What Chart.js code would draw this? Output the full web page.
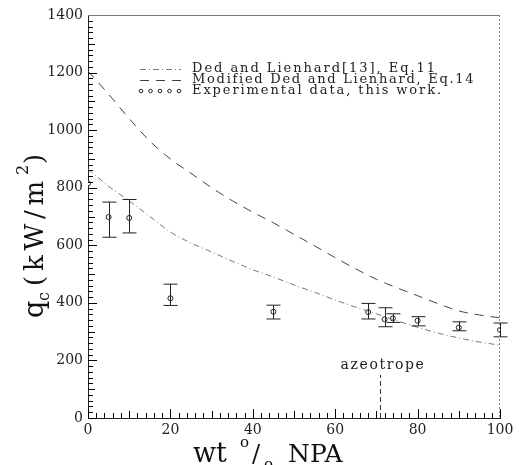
<!DOCTYPE html>
<html>
<head>
<meta charset="utf-8">
<script src="https://cdn.jsdelivr.net/npm/chart.js@4.4.1/dist/chart.umd.min.js"></script>
<style>
html,body{margin:0;padding:0;background:#fff;}
</style>
</head>
<body>
<canvas id="myChart" width="519" height="465"></canvas>
<script>
// DATA

// model curves, x = wt % NPA
const wtGrid = [0,5,10,15,20,25,30,35,40,45,50,55,60,65,70,75,80,85,90,95,100];
const qEq11 = [865,805,754,700,646,608,577,545,515,490,462,437,410,385,362,338,315,295,278,264,253];
const qEq14 = [1205,1125,1040,962,900,850,800,755,715,678,638,598,557,518,482,452,425,397,372,358,348];

// experimental points with error bars
const expWt   = [0,5,10,20,45,68,72,74,80,90,100];
const expQ    = [815,698,695,416,369,368,343,346,338,314,306];
const expLow  = [815,628,643,391,344,344,317,332,320,303,282];
const expHigh = [815,750,759,465,392,398,383,362,352,334,330];

// azeotrope marker
const azeoWt = [71,71];
const azeoQ = [0,150];

const xTicks = [0,20,40,60,80,100];
const yTicks = [0,200,400,600,800,1000,1200,1400];
// minor tick positions
const xMinor = Array.from({length:51}, (_,i)=>i*2);
const yMinor = Array.from({length:71}, (_,i)=>i*20);

const labels = [
	"Ded and Lienhard[13], Eq.11",
	"Modified Ded and Lienhard, Eq.14",
	"Experimental data, this work."
];

const serif = "'DejaVu Serif', serif";
const ink = '#222';

function pts(xs, ys){
	return xs.map((x,i)=>({x:x, y:ys[i]}));
}

// write text stretched to a given width (the original font is wide spaced)
function fitText(ctx, txt, x, y, w){
	ctx.letterSpacing = '0px';
	let m = ctx.measureText(txt).width;
	let sp = (w - m) / txt.length;
	ctx.letterSpacing = sp + 'px';
	ctx.fillText(txt, x, y);
	ctx.letterSpacing = '0px';
}

const decor = {
	id: 'decor',
	afterDatasetsDraw(chart){
		const ctx = chart.ctx;
		const xs = chart.scales.x;
		const ys = chart.scales.y;
		ctx.save();
		ctx.strokeStyle = ink;
		ctx.lineWidth = 1;
		ctx.setLineDash([]);
		// error bars
		expWt.forEach((w,i)=>{
			if(expLow[i] === expHigh[i]) return;
			let px = Math.round(xs.getPixelForValue(w)) + 0.5;
			let lo = ys.getPixelForValue(expLow[i]);
			let hi = ys.getPixelForValue(expHigh[i]);
			ctx.beginPath();
			ctx.moveTo(px, lo); ctx.lineTo(px, hi);
			ctx.moveTo(px-7, lo); ctx.lineTo(px+7, lo);
			ctx.moveTo(px-7, hi); ctx.lineTo(px+7, hi);
			ctx.stroke();
		});
		ctx.restore();
	},
	afterDraw(chart){
		const ctx = chart.ctx;
		const xs = chart.scales.x;
		const ys = chart.scales.y;
		const a = chart.chartArea;
		ctx.save();

		// inward ticks
		ctx.fillStyle = '#000';
		xMinor.forEach(v=>{
			let px = Math.round(xs.getPixelForValue(v));
			let len = v%20===0 ? 9 : (v%10===0 ? 7 : 5);
			ctx.fillRect(px, a.bottom - len, 1, len);
		});
		yMinor.forEach(v=>{
			let py = Math.round(ys.getPixelForValue(v));
			let len = v%200===0 ? 9 : (v%100===0 ? 7 : 5);
			ctx.fillRect(a.left, py, len, 1);
		});

		// frame: grey top, dotted right
		ctx.lineWidth = 1;
		ctx.strokeStyle = '#777';
		ctx.beginPath();
		ctx.moveTo(a.left, a.top+0.5); ctx.lineTo(a.right, a.top+0.5);
		ctx.stroke();
		ctx.setLineDash([2,2]);
		ctx.strokeStyle = '#888';
		ctx.beginPath();
		ctx.moveTo(a.right-0.5, a.top); ctx.lineTo(a.right-0.5, a.bottom);
		ctx.stroke();
		ctx.setLineDash([]);

		// legend
		const ds = chart.data.datasets;
		const rowY = [69, 80, 91];
		const fitW = [245, 283, 251];
		ctx.font = '13px ' + serif;
		ctx.fillStyle = ink;
		ctx.textBaseline = 'middle';
		for(let i=0;i<3;i++){
			let y = rowY[i];
			if(i<2){
				ctx.strokeStyle = ds[i].borderColor;
				ctx.setLineDash(ds[i].borderDash);
				ctx.beginPath();
				ctx.moveTo(140, y+0.5); ctx.lineTo(181, y+0.5);
				ctx.stroke();
				ctx.setLineDash([]);
			} else {
				ctx.strokeStyle = ink;
				for(let k=0;k<5;k++){
					ctx.beginPath();
					ctx.arc(141+k*9.5, y, 1.8, 0, Math.PI*2);
					ctx.stroke();
				}
			}
			fitText(ctx, labels[i], 192, y, fitW[i]);
		}

		// azeotrope label
		ctx.font = '14px ' + serif;
		ctx.textBaseline = 'alphabetic';
		let ax = xs.getPixelForValue(azeoWt[0]);
		fitText(ctx, 'azeotrope', ax-40, ys.getPixelForValue(azeoQ[1]) - 6, 85);

		// x title:  wt °/o NPA
		ctx.fillStyle = '#111';
		ctx.font = '27px ' + serif;
		ctx.fillText('wt', 193, 462);
		ctx.font = '15px ' + serif;
		ctx.fillText('o', 240, 447);
		ctx.font = '24px ' + serif;
		ctx.fillText('/', 252, 462);
		ctx.font = '15px ' + serif;
		ctx.fillText('o', 264, 469);
		ctx.font = '25px ' + serif;
		ctx.fillText('NPA', 288, 462);

		// y title:  q_c (kW/m^2)
		ctx.translate(43, 318);
		ctx.rotate(-Math.PI/2);
		ctx.font = '27px ' + serif;
		ctx.fillText('q', 0, 0);
		ctx.font = '16px ' + serif;
		ctx.fillText('c', 17, 6);
		ctx.font = '26px ' + serif;
		fitText(ctx, '(kW/m', 32, 0, 110);
		ctx.font = '16px ' + serif;
		ctx.fillText('2', 32+110+1, -15);
		ctx.font = '26px ' + serif;
		ctx.fillText(')', 32+110+12, 0);

		ctx.restore();
	}
};

const data = {
	datasets: [
		{
			label: labels[0],
			data: pts(wtGrid, qEq11),
			borderColor: '#777',
			borderWidth: 1,
			borderDash: [6,3,1,3],
			pointRadius: 0,
			cubicInterpolationMode: 'monotone',
			showLine: true
		},
		{
			label: labels[1],
			data: pts(wtGrid, qEq14),
			borderColor: '#444',
			borderWidth: 1,
			borderDash: [9,7],
			pointRadius: 0,
			cubicInterpolationMode: 'monotone',
			showLine: true
		},
		{
			label: labels[2],
			data: pts(expWt, expQ),
			showLine: false,
			pointStyle: 'circle',
			pointRadius: 2.5,
			borderColor: ink,
			borderWidth: 1,
			backgroundColor: '#fff'
		},
		{
			label: 'azeotrope',
			data: pts(azeoWt, azeoQ),
			showLine: true,
			borderColor: '#333',
			borderWidth: 1,
			borderDash: [5,3],
			pointRadius: 0
		}
	]
};

const config = {
	type: 'scatter',
	data: data,
	plugins: [decor],
	options: {
		responsive: false,
		animation: false,
		devicePixelRatio: 1,
		layout: { padding: { left: 0, top: 15, right: 19, bottom: 0 } },
		plugins: { legend: { display: false }, tooltip: { enabled: false } },
		scales: {
			x: {
				type: 'linear', min: 0, max: 100,
				afterFit: (s)=>{ s.height = 47; },
				afterBuildTicks: (s)=>{ s.ticks = xTicks.map(v=>({value:v})); },
				ticks: { font: { family: serif, size: 14 }, color: '#222', padding: 4, callback: v => String(v) },
				grid: { display: false, drawTicks: false },
				border: { display: true, color: ink, width: 1 }
			},
			y: {
				type: 'linear', min: 0, max: 1400,
				afterFit: (s)=>{ s.width = 88; },
				afterBuildTicks: (s)=>{ s.ticks = yTicks.map(v=>({value:v})); },
				ticks: { font: { family: serif, size: 14 }, color: '#222', padding: 5, callback: v => String(v) },
				grid: { display: false, drawTicks: false },
				border: { display: true, color: ink, width: 1 }
			}
		}
	}
};

const myChart = new Chart(document.getElementById('myChart'), config);
</script>
</body>
</html>
